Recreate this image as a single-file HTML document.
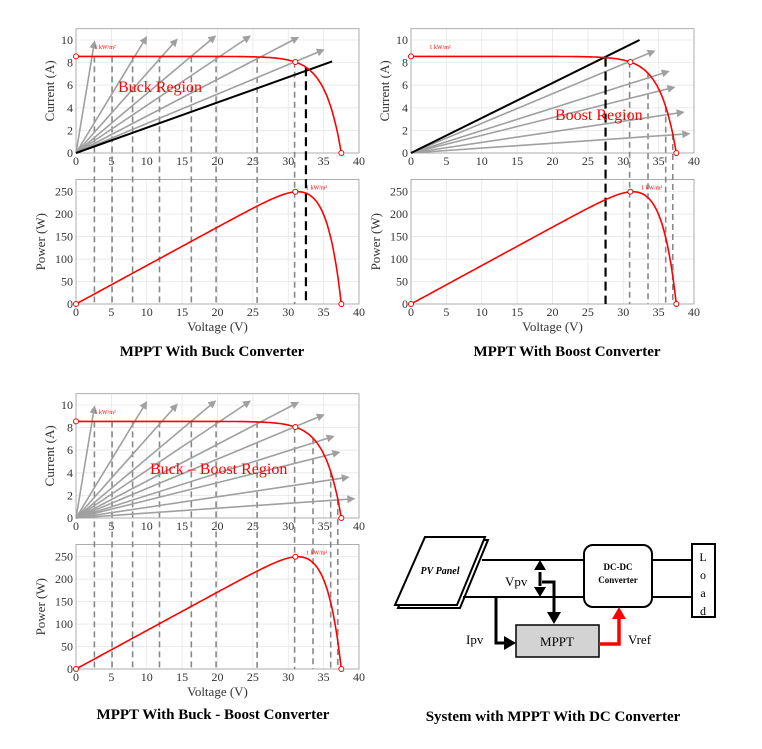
<!DOCTYPE html>
<html><head><meta charset="utf-8"><style>
html,body{margin:0;padding:0;background:#fff}
svg{display:block}
text{font-family:"Liberation Serif",serif}
</style></head><body>
<svg id="s" width="762" height="749" viewBox="0 0 762 749" xmlns="http://www.w3.org/2000/svg">
<defs>
<marker id="ag" markerWidth="8" markerHeight="8" refX="6" refY="4" orient="auto" markerUnits="userSpaceOnUse"><path d="M0,0 L8,4 L0,8 Z" fill="#a0a0a0"/></marker>
</defs>
<g id="g"></g>
<g stroke="#000" fill="none" stroke-width="2">
<polygon points="428,540 488,540 460,608 398,608" fill="#fff"/>
<polygon points="425,537 485,537 457,605 395,605" fill="#fff"/>
<line x1="482" y1="560" x2="584" y2="560"/>
<line x1="463" y1="597" x2="584" y2="597"/>
<rect x="584" y="545" width="68" height="62" rx="9" fill="#fff"/>
<line x1="652" y1="560" x2="692" y2="560"/>
<line x1="652" y1="597" x2="692" y2="597"/>
<rect x="692" y="544" width="23" height="73" fill="#fff"/>
<rect x="516" y="625" width="83" height="32" fill="#d3d3d3" stroke-width="1.5"/>
</g>
<g stroke="#000" stroke-width="3" fill="none">
<line x1="540" y1="572" x2="540" y2="586"/>
<path d="M540,560 l-6,10 h12 z M540,597 l-6,-10 h12 z" fill="#000" stroke="none"/>
<path d="M542,582 H554 V612"/>
<path d="M554,624 l-7,-12 h14 z" fill="#000" stroke="none"/>
<path d="M496,597 V643 H504"/>
<path d="M516,643 l-12,-7 v14 z" fill="#000" stroke="none"/>
</g>
<path d="M599,644 H619 V619" stroke="#f00" stroke-width="3.5" fill="none"/>
<path d="M619,607 l-7,12 h14 z" fill="#f00"/>
<text x="440" y="574" font-size="10" font-style="italic" font-weight="bold" text-anchor="middle">PV Panel</text>
<text x="618" y="570" font-size="9" font-weight="bold" text-anchor="middle">DC-DC</text>
<text x="618" y="583" font-size="9" font-weight="bold" text-anchor="middle">Converter</text>
<text x="703" y="561" font-size="12" text-anchor="middle">L</text>
<text x="703" y="579" font-size="12" text-anchor="middle">o</text>
<text x="703" y="597" font-size="12" text-anchor="middle">a</text>
<text x="703" y="615" font-size="12" text-anchor="middle">d</text>
<text x="505" y="586" font-size="13">Vpv</text>
<text x="466" y="644" font-size="13">Ipv</text>
<text x="628" y="644" font-size="13">Vref</text>
<text x="557" y="646" font-size="13" text-anchor="middle">MPPT</text>
<text x="212" y="356" font-size="15" font-weight="bold" text-anchor="middle">MPPT With Buck Converter</text>
<text x="567" y="356" font-size="15" font-weight="bold" text-anchor="middle">MPPT With Boost Converter</text>
<text x="213" y="719" font-size="15" font-weight="bold" text-anchor="middle">MPPT With Buck - Boost Converter</text>
<text x="553" y="721" font-size="15" font-weight="bold" text-anchor="middle">System with MPPT With DC Converter</text>
</svg>
<script>
var g=document.getElementById('g'),h='';
function I(v){var r=8.55*(1-Math.exp((v-37.5)/2.29));return r<0?0:r;}
function panel(x0,dy,o){
 var X=function(v){return x0+v*7.075};
 var YT=function(a){return 153+dy-a*11.3};
 var YB=function(p){return 304+dy-p*0.4496};
 var x1=X(40);
 var tT=YT(11),tB=YT(0),bT=YB(277),bB=YB(0);
 [[tT,tB],[bT,bB]].forEach(function(b){
  for(var v=5;v<40;v+=5)h+='<line x1="'+X(v)+'" y1="'+b[0]+'" x2="'+X(v)+'" y2="'+b[1]+'" stroke="#e6e6e6" stroke-width="0.8"/>';
 });
 for(var a=2;a<=10;a+=2)h+='<line x1="'+x0+'" y1="'+YT(a)+'" x2="'+x1+'" y2="'+YT(a)+'" stroke="#e6e6e6" stroke-width="0.8"/>';
 for(var p=50;p<=250;p+=50)h+='<line x1="'+x0+'" y1="'+YB(p)+'" x2="'+x1+'" y2="'+YB(p)+'" stroke="#e6e6e6" stroke-width="0.8"/>';
 h+='<rect x="'+x0+'" y="'+tT+'" width="'+(x1-x0)+'" height="'+(tB-tT)+'" fill="none" stroke="#999" stroke-width="0.8"/>';
 h+='<rect x="'+x0+'" y="'+bT+'" width="'+(x1-x0)+'" height="'+(bB-bT)+'" fill="none" stroke="#999" stroke-width="0.8"/>';
 for(var v=0;v<=40;v+=5){
  h+='<text x="'+X(v)+'" y="'+(tB+12)+'" font-size="12" text-anchor="middle" fill="#333">'+v+'</text>';
  h+='<text x="'+X(v)+'" y="'+(bB+12)+'" font-size="12" text-anchor="middle" fill="#333">'+v+'</text>';
 }
 for(var a=0;a<=10;a+=2)h+='<text x="'+(x0-3)+'" y="'+(YT(a)+4)+'" font-size="12" text-anchor="end" fill="#333">'+a+'</text>';
 for(var p=0;p<=250;p+=50)h+='<text x="'+(x0-3)+'" y="'+(YB(p)+4)+'" font-size="12" text-anchor="end" fill="#333">'+p+'</text>';
 h+='<text transform="translate('+(x0-22)+','+((tT+tB)/2)+') rotate(-90)" font-size="13" text-anchor="middle" fill="#333">Current (A)</text>';
 h+='<text transform="translate('+(x0-31)+','+((bT+bB)/2)+') rotate(-90)" font-size="13" text-anchor="middle" fill="#333">Power (W)</text>';
 h+='<text x="'+X(20)+'" y="'+(bB+27)+'" font-size="13" text-anchor="middle" fill="#333">Voltage (V)</text>';
 o.dv.forEach(function(v){h+='<line x1="'+X(v)+'" y1="'+YT(I(v))+'" x2="'+X(v)+'" y2="'+bB+'" stroke="#888" stroke-width="1.6" stroke-dasharray="6,4"/>';});
 o.ar.forEach(function(e){h+='<line x1="'+X(0)+'" y1="'+YT(0)+'" x2="'+X(e[0])+'" y2="'+YT(e[1])+'" stroke="#a0a0a0" stroke-width="1.6" marker-end="url(#ag)"/>';});
 if(o.bl){h+='<line x1="'+X(0)+'" y1="'+YT(0)+'" x2="'+X(o.bl[0])+'" y2="'+YT(o.bl[1])+'" stroke="#000" stroke-width="2"/>';
  h+='<line x1="'+X(o.bv)+'" y1="'+YT(I(o.bv))+'" x2="'+X(o.bv)+'" y2="'+bB+'" stroke="#000" stroke-width="2.2" stroke-dasharray="9,5"/>';}
 var pi='',pp='';
 for(var v=0;v<=37.5;v+=0.25){pi+=(v?'L':'M')+X(v).toFixed(1)+','+YT(I(v)).toFixed(1);pp+=(v?'L':'M')+X(v).toFixed(1)+','+YB(v*I(v)).toFixed(1);}
 h+='<path d="'+pi+'" stroke="#f00" stroke-width="1.6" fill="none"/><path d="'+pp+'" stroke="#f00" stroke-width="1.6" fill="none"/>';
 [[0,YT(8.55)],[31,YT(I(31))],[37.5,YT(0)]].forEach(function(c){h+='<circle cx="'+X(c[0])+'" cy="'+c[1]+'" r="2.5" fill="#fff" stroke="#f00"/>';});
 [[0,YB(0)],[31,YB(31*I(31))],[37.5,YB(0)]].forEach(function(c){h+='<circle cx="'+X(c[0])+'" cy="'+c[1]+'" r="2.5" fill="#fff" stroke="#f00"/>';});
 h+='<text x="'+X(2.6)+'" y="'+YT(9.2)+'" font-size="6" fill="#f00" font-family="Liberation Sans">1 kW/m²</text>';
 h+='<text x="'+X(32.5)+'" y="'+YB(255)+'" font-size="6" fill="#f00" font-family="Liberation Sans">1 kW/m²</text>';
 h+='<text x="'+o.rt[1]+'" y="'+o.rt[2]+'" font-size="16" fill="#f00">'+o.rt[0]+'</text>';
}
var buckA=[[2.6,9.8],[9.9,10.2],[14.2,10],[19.6,10.3],[24.5,10.3],[31.3,10.2],[34.9,9.1]];
var boostA=[[34.3,9.0],[36.3,7.2],[37.1,5.8],[38.4,3.6],[39.2,1.7]];
var buckV=[2.6,5.1,8,11.8,16.3,19.8,25.6,30.9];
panel(76,0,{dv:buckV,ar:buckA,bl:[36.2,8.1],bv:32.5,rt:['Buck Region',118,92]});
panel(411,0,{dv:[30.9,33.5,36,37],ar:boostA,bl:[32.3,10],bv:27.5,rt:['Boost Region',555,120]});
panel(76,365,{dv:buckV.concat([33.5,36,37]),ar:buckA.concat(boostA.slice(1)),rt:['Buck – Boost Region',150,474]});
g.innerHTML=h;
</script>
</body></html>
